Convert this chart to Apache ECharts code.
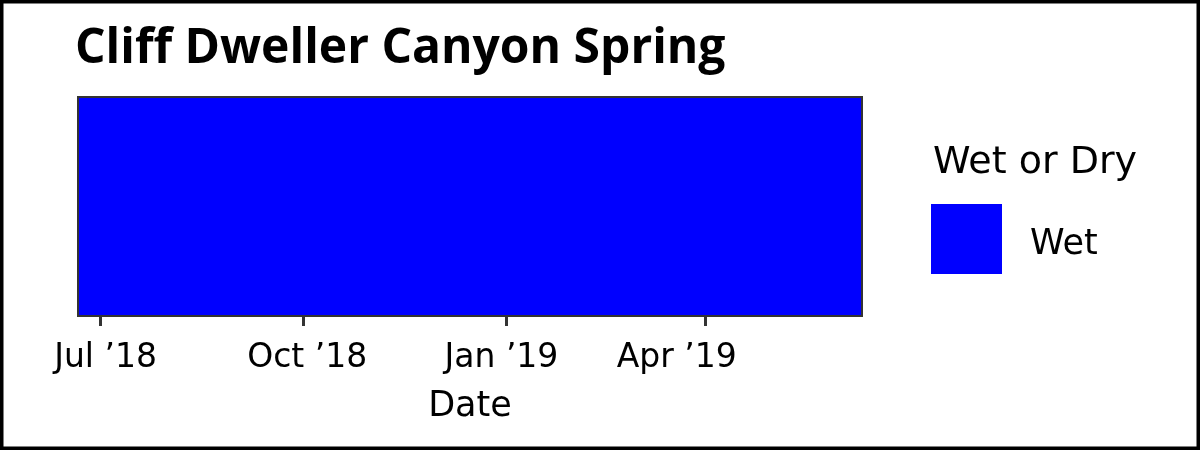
<!DOCTYPE html>
<html>
<head>
<meta charset="utf-8">
<script src="https://cdn.jsdelivr.net/npm/echarts@6/dist/echarts.min.js"></script>
<style>
html,body{margin:0;padding:0;background:#fff;}
#c{width:1200px;height:450px;}
</style>
</head>
<body>
<div id="c"></div>
<script>
const chartTitle = 'Cliff Dweller Canyon Spring';
const legendTitle = 'Wet or Dry';
const axisName = 'Date';
const categories = ['Wet'];
const spanStart = ['2018-06-21'];
const spanEnd = ['2019-06-11'];
const tickDates = ['2018-07-01', '2018-10-01', '2019-01-01', '2019-04-01'];
const tickLabels = ['Jul \u201918', 'Oct \u201918', 'Jan \u201919', 'Apr \u201919'];
const colors = {Wet: '#0000FF'};

const FONT = '"DejaVu Sans", "Open Sans", sans-serif';
const TFONT = '"Open Sans", "DejaVu Sans", sans-serif';
const ts = d => new Date(d + 'T00:00:00Z').getTime();
const tickTs = tickDates.map(ts);
const labelIdx = {};
tickTs.forEach((t, i) => { labelIdx[t] = i; });

// per-label horizontal nudges as seen in the reference (style only)
const labelPads = [[0, 0, 0, 11], [0, 0, 0, 8], [0, 10, 0, 0], [0, 57, 0, 0]];
const rich = {};
labelPads.forEach((p, i) => {
  rich['l' + i] = {fontFamily: FONT, fontSize: 33, color: '#000', padding: p};
});

const data = categories.map((c, i) => [ts(spanStart[i]), ts(spanEnd[i]), 0, c]);

const chart = echarts.init(document.getElementById('c'), null, {renderer: 'canvas'});
chart.setOption({
  animation: false,
  backgroundColor: '#fff',
  title: [
    {text: chartTitle, left: 70, top: 20,
     textStyle: {fontFamily: TFONT, fontWeight: 'bold', fontSize: 48, color: '#000'}},
    {text: legendTitle, left: 928, top: 139,
     textStyle: {fontFamily: FONT, fontWeight: 'normal', fontSize: 38, color: '#000'}}
  ],
  legend: {
    data: categories, left: 931, top: 204, orient: 'vertical', padding: 0,
    icon: 'rect', itemWidth: 71, itemHeight: 70,
    itemStyle: {borderWidth: 0},
    formatter: name => '{w|' + name + '}',
    textStyle: {fontFamily: FONT, fontSize: 35, color: '#000',
      rich: {w: {fontFamily: FONT, fontSize: 35, color: '#000', padding: [12, 0, 0, 23]}}}
  },
  grid: {left: 78, right: 338, top: 97, bottom: 134, containLabel: false},
  xAxis: {
    type: 'value',
    min: Math.min(...data.map(d => d[0])),
    max: Math.max(...data.map(d => d[1])),
    name: axisName, nameLocation: 'middle', nameGap: 73,
    nameTextStyle: {fontFamily: FONT, fontSize: 35, color: '#000'},
    axisLine: {show: false},
    axisTick: {show: true, customValues: tickTs, length: 10, lineStyle: {color: '#333', width: 3}},
    axisLabel: {customValues: tickTs,
      formatter: v => (v in labelIdx) ? '{l' + labelIdx[v] + '|' + tickLabels[labelIdx[v]] + '}' : '',
      margin: 26, rich: rich,
      fontFamily: FONT, fontSize: 33, color: '#000', hideOverlap: false,
      showMinLabel: true, showMaxLabel: true},
    splitLine: {show: false}
  },
  yAxis: {type: 'category', data: ['Spring'], show: false},
  graphic: [{type: 'rect', shape: {x: 0, y: 0, width: 1200, height: 450},
    style: {fill: 'none', stroke: '#000', lineWidth: 7}, z: 100, silent: true}],
  series: [{
    type: 'custom', name: 'Wet',
    itemStyle: {color: colors.Wet},
    encode: {x: [0, 1], y: 2},
    data: data.map(d => [d[0], d[1], d[2]]),
    renderItem: function (params, api) {
      const s = api.coord([api.value(0), api.value(2)]);
      const e = api.coord([api.value(1), api.value(2)]);
      const band = api.size([0, 1])[1];
      return {
        type: 'rect',
        shape: {x: s[0], y: s[1] - band / 2, width: e[0] - s[0], height: band},
        style: {fill: colors.Wet, stroke: '#333', lineWidth: 2}
      };
    }
  }]
});
</script>
</body>
</html>
